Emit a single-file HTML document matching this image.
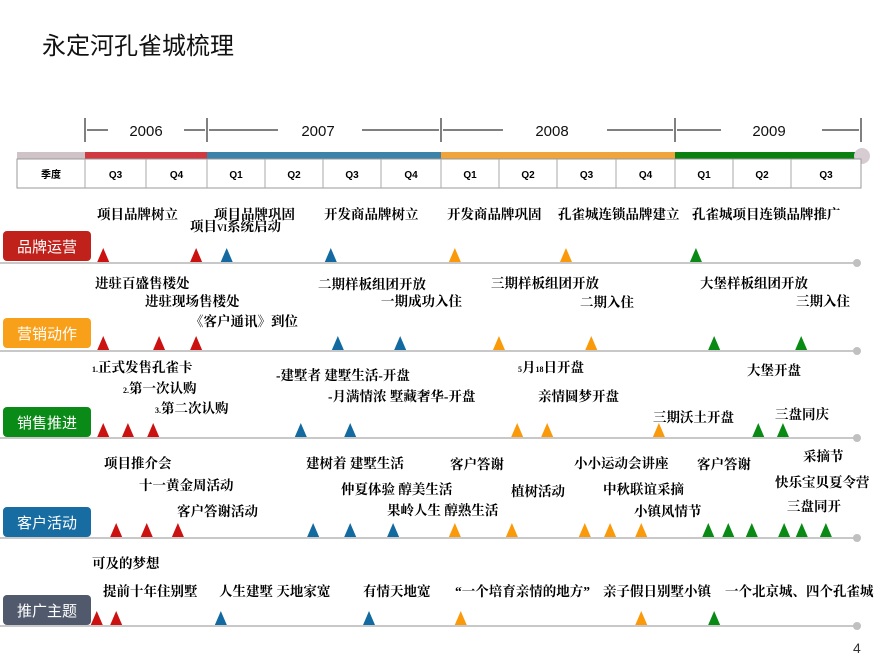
<!DOCTYPE html>
<html><head><meta charset="utf-8">
<style>
body{margin:0;background:#fff;}
svg{display:block;font-family:"Liberation Sans","Noto Sans CJK SC",sans-serif;}
.lb{font-size:13.5px;font-weight:bold;fill:#000;font-family:"Liberation Serif","Noto Serif CJK SC","Noto Sans CJK SC",serif;}
.q{font-size:10px;font-weight:bold;text-anchor:middle;}
.yr{font-size:15px;text-anchor:middle;fill:#111;}
.cat{font-size:15px;fill:#fff;text-anchor:middle;}
</style></head>
<body>
<svg id="chart" width="886" height="672">
<text x="42" y="54" font-size="24" fill="#111">永定河孔雀城梳理</text>
<g id="years" stroke="#000" stroke-width="1">
<line x1="85" y1="118" x2="85" y2="142"/><line x1="207" y1="118" x2="207" y2="142"/>
<line x1="441" y1="118" x2="441" y2="142"/><line x1="675" y1="118" x2="675" y2="142"/>
<line x1="861" y1="118" x2="861" y2="142"/>
<line x1="87" y1="130" x2="108" y2="130"/><line x1="184" y1="130" x2="205" y2="130"/>
<line x1="209" y1="130" x2="278" y2="130"/><line x1="362" y1="130" x2="439" y2="130"/>
<line x1="443" y1="130" x2="503" y2="130"/><line x1="607" y1="130" x2="673" y2="130"/>
<line x1="677" y1="130" x2="721" y2="130"/><line x1="822" y1="130" x2="859" y2="130"/>
</g>
<text class="yr" x="146" y="136">2006</text>
<text class="yr" x="318" y="136">2007</text>
<text class="yr" x="552" y="136">2008</text>
<text class="yr" x="769" y="136">2009</text>
<g>
<rect x="17" y="152" width="68" height="7" fill="#cfc3c8"/>
<rect x="85" y="152" width="122" height="7" fill="#d0393f"/>
<rect x="207" y="152" width="234" height="7" fill="#3d82a8"/>
<rect x="441" y="152" width="234" height="7" fill="#f0a43c"/>
<rect x="675" y="152" width="183" height="7" fill="#0a8010"/>
<circle cx="862" cy="156" r="8" fill="#d6ccd2"/>
</g>
<g id="qtable"></g>
<g id="rows"></g>
<g>
<text class="lb" x="97" y="219">项目品牌树立</text>
<text class="lb" x="214" y="219">项目品牌巩固</text>
<text class="lb" x="190" y="231">项目<tspan font-size="9">VI</tspan>系统启动</text>
<text class="lb" x="324" y="219">开发商品牌树立</text>
<text class="lb" x="447" y="219">开发商品牌巩固</text>
<text class="lb" x="558" y="219">孔雀城连锁品牌建立</text>
<text class="lb" x="692" y="219">孔雀城项目连锁品牌推广</text>
</g>
<g>
<text class="lb" x="95" y="288">进驻百盛售楼处</text>
<text class="lb" x="145" y="306">进驻现场售楼处</text>
<text class="lb" x="190" y="326">《客户通讯》到位</text>
<text class="lb" x="318" y="289">二期样板组团开放</text>
<text class="lb" x="381" y="306">一期成功入住</text>
<text class="lb" x="491" y="288">三期样板组团开放</text>
<text class="lb" x="580" y="307">二期入住</text>
<text class="lb" x="700" y="288">大堡样板组团开放</text>
<text class="lb" x="796" y="306">三期入住</text>
</g>
<g>
<text class="lb" x="92" y="372"><tspan font-size="8">1.</tspan>正式发售孔雀卡</text>
<text class="lb" x="123" y="393"><tspan font-size="8">2.</tspan>第一次认购</text>
<text class="lb" x="155" y="413"><tspan font-size="8">3.</tspan>第二次认购</text>
<text class="lb" x="276" y="380">-建墅者 建墅生活-开盘</text>
<text class="lb" x="328" y="401">-月满情浓 墅藏奢华-开盘</text>
<text class="lb" x="518" y="372"><tspan font-size="8">5</tspan>月<tspan font-size="8">18</tspan>日开盘</text>
<text class="lb" x="538" y="401">亲情圆梦开盘</text>
<text class="lb" x="653" y="422">三期沃土开盘</text>
<text class="lb" x="747" y="375">大堡开盘</text>
<text class="lb" x="775" y="419">三盘同庆</text>
</g>
<g>
<text class="lb" x="104" y="468">项目推介会</text>
<text class="lb" x="139" y="490">十一黄金周活动</text>
<text class="lb" x="177" y="516">客户答谢活动</text>
<text class="lb" x="306" y="468">建树着 建墅生活</text>
<text class="lb" x="341" y="494">仲夏体验 醇美生活</text>
<text class="lb" x="387" y="515">果岭人生 醇熟生活</text>
<text class="lb" x="450" y="469">客户答谢</text>
<text class="lb" x="511" y="496">植树活动</text>
<text class="lb" x="574" y="468">小小运动会讲座</text>
<text class="lb" x="603" y="494">中秋联谊采摘</text>
<text class="lb" x="634" y="516">小镇风情节</text>
<text class="lb" x="697" y="469">客户答谢</text>
<text class="lb" x="803" y="461">采摘节</text>
<text class="lb" x="775" y="487">快乐宝贝夏令营</text>
<text class="lb" x="787" y="511">三盘同开</text>
</g>
<g>
<text class="lb" x="92" y="568">可及的梦想</text>
<text class="lb" x="103" y="596">提前十年住别墅</text>
<text class="lb" x="219" y="596">人生建墅 天地家宽</text>
<text class="lb" x="363" y="596">有情天地宽</text>
<text class="lb" x="455" y="596">“一个培育亲情的地方”</text>
<text class="lb" x="603" y="596">亲子假日别墅小镇</text>
<text class="lb" x="725" y="596">一个北京城、四个孔雀城</text>
</g>
<text x="853" y="653" font-size="14" fill="#333">4</text>
</svg>
<script>
// quarter table data
const quarterLabels = ["季度","Q3","Q4","Q1","Q2","Q3","Q4","Q1","Q2","Q3","Q4","Q1","Q2","Q3"];
const categories = ["品牌运营","营销动作","销售推进","客户活动","推广主题"];
// event times in quarters since 2006 Q3 start
const brandEvents = [0.31,1.89,2.41,4.18,6.29,8.18,10.39];
const marketingEvents = [0.31,1.26,1.89,4.30,5.36,7.04,8.61,10.70,12.18];
const salesEvents = [0.31,0.73,1.16,3.67,4.51,7.35,7.86,9.76,11.45,11.87];
const clientEvents = [0.53,1.05,1.58,3.88,4.51,5.24,6.29,7.26,8.50,8.93,9.46,10.60,10.94,11.34,11.89,12.19,12.60];
const promoEvents = [0.20,0.53,2.31,4.83,6.39,9.46,10.70];

const NS="http://www.w3.org/2000/svg";
const xScale = t => 85 + t*58.8;
const colorFor = t => t<2 ? "#cc1111" : t<6 ? "#136aa0" : t<10 ? "#fa9a0a" : "#098a14";
function mk(tag, attrs, parent){const e=document.createElementNS(NS,tag);for(const k in attrs)e.setAttribute(k,attrs[k]);parent.appendChild(e);return e;}

// table
const qt=document.getElementById('qtable');
const cellEdges=[17,85,146,207,265,323,381,441,499,557,616,675,733,791,861];
mk('rect',{x:17,y:159,width:844,height:29,fill:"#fff",stroke:"#999","stroke-width":1},qt);
for(let i=0;i<quarterLabels.length;i++){
  const x0=cellEdges[i],x1=cellEdges[i+1];
  if(i>0){const l=mk('line',{x1:x0,y1:159,x2:x0,y2:188,stroke:"#aaa"},qt);}
  const t=mk('text',{x:(x0+x1)/2,y:185-7,class:"q"},qt);
  t.textContent=quarterLabels[i];
  
  
}

const rowsG=document.getElementById('rows');
const rowSeries=[brandEvents,marketingEvents,salesEvents,clientEvents,promoEvents];
const baselines=[263,351,438,538,626];
const boxTops=[231,318,407,507,595];
const boxColors=["#c0211b","#f9a01b","#0a8a16","#176da2","#515a6c"];
rowSeries.forEach((arr,r)=>{
  const g=mk('g',{},rowsG);
  
  
  const y=baselines[r];
  mk('line',{x1:0,y1:y,x2:856,y2:y,stroke:"#c8c8c8","stroke-width":2},g);
  mk('circle',{cx:857,cy:y,r:4,fill:"#c0c0c0"},g);
  const box=mk('rect',{x:3,y:boxTops[r],width:88,height:30,rx:4,fill:boxColors[r]},g);
  
  
  const tx=mk('text',{x:47,y:boxTops[r]+21,class:"cat"},g);
  tx.textContent=categories[r];
  
  
  arr.forEach(t=>{
    const cx=xScale(t);
    const p=mk('polygon',{points:`${cx-6},${y-1} ${cx+6},${y-1} ${cx},${y-15}`,fill:colorFor(t)},g);
    
    
  });
});
</script>
</body></html>
